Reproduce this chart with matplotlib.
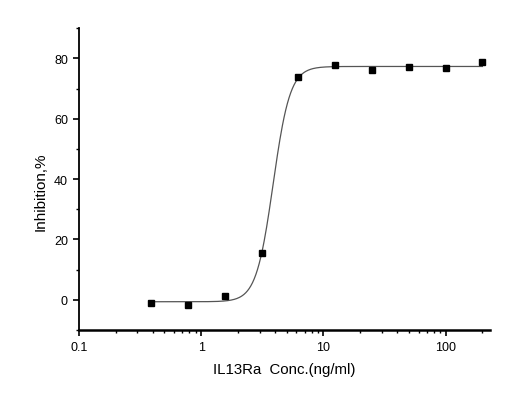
import numpy as np
import matplotlib
matplotlib.use("Agg")
import matplotlib.pyplot as plt
from matplotlib.ticker import FixedLocator, LogLocator, MultipleLocator, FuncFormatter

plt.rcParams['font.family'] = ['Liberation Sans', 'DejaVu Sans']

# IL13Ra concentration (ng/ml), 2-fold dilution
conc = [0.39, 0.78, 1.5625, 3.125, 6.25, 12.5, 25, 50, 100, 200]
inhibition = [-1.1, -1.8, 1.2, 15.4, 73.7, 77.8, 76.3, 77.1, 76.7, 78.7]
x_ticks = [0.1, 1, 10, 100]
x_ticklabels = ['0.1', '1', '10', '100']


def logistic(x, bottom, top, ec50, hill):
    return bottom + (top - bottom) / (1 + (ec50 / x) ** hill)


# crude 4PL fit: grid over ec50/hill, linear least squares for bottom/top
xd = np.array(conc)
yd = np.array(inhibition)
best = None
for ec50 in np.linspace(2.5, 6, 141):
    for hill in np.linspace(2, 10, 161):
        f = 1 / (1 + (ec50 / xd) ** hill)
        A = np.column_stack([1 - f, f])
        coef, res, _, _ = np.linalg.lstsq(A, yd, rcond=None)
        err = np.sum((A @ coef - yd) ** 2)
        if best is None or err < best[0]:
            best = (err, coef[0], coef[1], ec50, hill)
_, bottom, top, ec50, hill = best

xs = np.logspace(np.log10(conc[0]), np.log10(conc[-1]), 400)

fig = plt.figure(figsize=(5.2, 4.1), dpi=100)
ax = fig.add_axes([0.152, 0.193, 0.79, 0.7355])

ax.plot(xs, logistic(xs, bottom, top, ec50, hill), color='#555555', lw=0.9)
ax.plot(conc, inhibition, 's', color='black', ms=5)

ax.set_xscale('log')
ax.set_xlim(0.1, 230)
ax.set_ylim(-10, 90)
ax.xaxis.set_major_locator(FixedLocator(x_ticks))
ax.xaxis.set_major_formatter(FuncFormatter(lambda v, p: x_ticklabels[x_ticks.index(v)] if v in x_ticks else ''))
ax.xaxis.set_minor_locator(LogLocator(base=10, subs=np.arange(2, 10), numticks=20))
ax.xaxis.set_minor_formatter(FuncFormatter(lambda v, p: ''))
ax.yaxis.set_major_locator(FixedLocator([0, 20, 40, 60, 80]))
ax.yaxis.set_minor_locator(MultipleLocator(10))

for s in ['top', 'right']:
    ax.spines[s].set_visible(False)
ax.spines['left'].set_linewidth(1.3)
ax.spines['bottom'].set_linewidth(1.8)
ax.tick_params(which='major', direction='out', length=4, width=1.2, labelsize=9, pad=4)
ax.tick_params(which='minor', direction='out', length=2.5, width=1.0)

ax.set_xlabel('IL13Ra  Conc.(ng/ml)', fontsize=10.8)
ax.set_ylabel('Inhibition,%', fontsize=11)
ax.xaxis.set_label_coords(0.5, -0.129)
ax.xaxis.label.set_va('center')
ax.yaxis.set_label_coords(-0.093, 0.462)
ax.yaxis.label.set_va('center')

fig.savefig('out.png', dpi=100)
